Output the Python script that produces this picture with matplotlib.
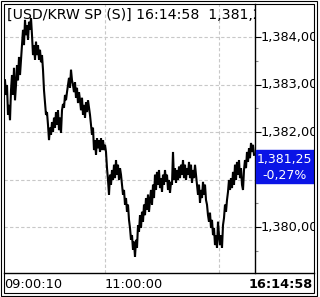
import matplotlib
matplotlib.use("Agg")
import matplotlib.pyplot as plt
from matplotlib.patches import Rectangle
import numpy as np

# ---- data ----
prices = [
    1383.09, 1382.78, 1382.99, 1382.36, 1382.57, 1382.25, 1382.88, 1383.20, 1382.78, 1383.35,
    1382.67, 1382.99, 1383.41, 1383.09, 1383.58, 1383.20, 1383.52, 1383.83, 1384.15, 1383.83,
    1384.36, 1384.04, 1384.25, 1383.94, 1384.32, 1384.15, 1384.40, 1384.04, 1383.62, 1383.83,
    1383.52, 1383.90, 1383.62, 1383.83, 1383.52, 1383.73, 1383.47, 1383.62, 1383.31, 1382.88,
    1382.61, 1382.36, 1382.42, 1382.15, 1381.83, 1382.09, 1381.94, 1382.21, 1382.00, 1382.30,
    1382.09, 1382.42, 1382.15, 1382.46, 1382.04, 1382.30, 1381.98, 1382.46, 1382.59, 1382.51,
    1382.78, 1382.67, 1382.84, 1382.99, 1383.14, 1382.93, 1383.31, 1383.09, 1382.99, 1382.84,
    1383.05, 1382.72, 1382.93, 1382.61, 1382.84, 1382.67, 1382.46, 1382.72, 1382.36, 1382.57,
    1382.30, 1382.63, 1382.42, 1382.67, 1382.51, 1382.36, 1382.15, 1381.94, 1382.09, 1381.62,
    1381.83, 1381.52, 1381.87, 1381.66, 1381.83, 1381.58, 1381.87, 1381.62, 1381.83, 1381.62,
    1381.73, 1381.58, 1381.24, 1380.99, 1380.68, 1381.10, 1380.89, 1381.20, 1380.99, 1381.31,
    1381.03, 1381.41, 1381.10, 1381.31, 1380.99, 1381.24, 1381.10, 1380.89, 1380.68, 1380.78,
    1380.47, 1380.61, 1380.32, 1380.47, 1380.15, 1379.98, 1379.73, 1379.83, 1379.52, 1379.69,
    1379.37, 1379.73, 1379.56, 1380.04, 1379.90, 1380.25, 1379.98, 1380.32, 1380.11, 1380.47,
    1380.25, 1380.61, 1380.36, 1380.68, 1380.32, 1380.57, 1380.78, 1380.47, 1380.89, 1380.61,
    1381.10, 1380.78, 1381.16, 1380.89, 1381.20, 1380.82, 1381.03, 1380.74, 1381.10, 1380.89,
    1381.20, 1380.95, 1381.10, 1380.78, 1380.99, 1380.72, 1380.95, 1380.89, 1381.58, 1380.99,
    1381.24, 1380.93, 1381.20, 1380.99, 1381.27, 1381.03, 1381.31, 1381.10, 1381.41, 1381.03,
    1381.31, 1380.99, 1381.24, 1381.10, 1381.37, 1381.03, 1381.31, 1380.93, 1381.20, 1381.03,
    1381.31, 1381.10, 1380.89, 1380.68, 1380.89, 1380.51, 1380.78, 1380.61, 1380.95, 1380.68,
    1380.89, 1380.57, 1380.47, 1380.25, 1380.11, 1380.30, 1379.98, 1380.15, 1379.83, 1379.98,
    1379.62, 1379.83, 1379.56, 1380.11, 1379.83, 1379.62, 1379.83, 1379.56, 1380.04, 1380.19,
    1380.47, 1380.32, 1380.57, 1380.74, 1380.99, 1380.78, 1381.03, 1380.82, 1381.16, 1380.89,
    1381.31, 1380.99, 1381.37, 1381.10, 1381.41, 1381.03, 1381.24, 1380.89, 1380.78, 1381.20,
    1381.41, 1381.24, 1381.58, 1381.37, 1381.66, 1381.45, 1381.77, 1381.58, 1381.73, 1381.52,
]
y_ticks = [1380.0, 1381.0, 1382.0, 1383.0, 1384.0]
y_tick_labels = ["1,380,00", "1,381,00", "1,382,00", "1,383,00", "1,384,00"]
y_minor = [1379.5, 1380.5, 1381.5, 1382.5, 1383.5]
x_grid_idx = [100, 214]
x_labels = ["09:00:10", "11:00:00", "16:14:58"]
x_label_idx = [0, 100]
title_text = "[USD/KRW SP (S)] 16:14:58  1,381,25"
last_price_text = "1,381,25"
change_text = "-0,27%"

W, H = 320, 297
DPI = 100
fig = plt.figure(figsize=(W / DPI, H / DPI), dpi=DPI)
fig.patch.set_facecolor("white")

def fx(px):
    return px / W

def fy(py):
    return 1 - py / H

FONT = "DejaVu Sans"
FS = 9.3
FS_TITLE = 10.2

# outer frames
fig.add_artist(Rectangle((fx(1), fy(296)), fx(316), (295) / H, transform=fig.transFigure,
                         fill=False, ec="black", lw=0.8))
fig.add_artist(Rectangle((fx(4), fy(293)), fx(310), (289) / H, transform=fig.transFigure,
                         fill=False, ec="black", lw=0.8))

# main plot axes
L, R, T, B = 4, 255, 4, 273
ax = fig.add_axes([fx(L), fy(B), (R - L) / W, (B - T) / H])
x = np.arange(len(prices))
ax.plot(x, prices, color="black", lw=1.5, solid_joinstyle="miter")
ax.set_xlim(-1, len(prices))
ax.set_ylim(1379.032, 1384.695)
for yt in y_ticks:
    ax.axhline(yt, color="#c8c8c8", lw=0.8, ls=(0, (3, 2)), zorder=0)
for xi in x_grid_idx:
    ax.axvline(xi, color="#c8c8c8", lw=0.8, ls=(0, (3, 2)), zorder=0)
ax.set_xticks([])
ax.yaxis.tick_right()
ax.set_yticks(y_ticks)
ax.set_yticks(y_minor, minor=True)
ax.set_yticklabels([])
ax.tick_params(axis="y", which="major", direction="out", length=4, width=0.8, color="black")
ax.tick_params(axis="y", which="minor", direction="out", length=2, width=0.8, color="#888888")
for s in ["left", "top", "bottom"]:
    ax.spines[s].set_visible(False)
ax.spines["right"].set_linewidth(1.0)
ax.text(3 / (R - L), 1 - 15 / (B - T), title_text, transform=ax.transAxes,
        fontsize=FS_TITLE, family=FONT, color="black", clip_on=True, va="baseline", ha="left")

# right label axes
axr = fig.add_axes([fx(R), fy(B), (314 - R) / W, (B - T) / H])
axr.set_xlim(0, 1)
axr.set_ylim(ax.get_ylim())
axr.axis("off")

def py2price(py):
    return 1384 - (py - 37) / 47.5

box_top = py2price(150)
box_bot = py2price(183)
for yt, lab in zip(y_ticks, y_tick_labels):
    if box_bot - 0.1 <= yt <= box_top + 0.1:
        continue  # hidden behind the last-price box in the reference
    axr.text(6 / (314 - R), yt, lab, fontsize=FS, family=FONT, va="center", ha="left",
             clip_on=True, color="black")
# last-price box
axr.add_patch(Rectangle((1 / (314 - R), box_bot), 1.0, box_top - box_bot,
                        color="#0a14e6", clip_on=True))
axr.text(0.5, py2price(159.5), last_price_text, fontsize=FS - 0.3, family=FONT,
         color="white", ha="center", va="center", clip_on=True)
axr.text(0.5, py2price(175), change_text, fontsize=FS - 0.3, family=FONT,
         color="white", ha="center", va="center", clip_on=True)

# bottom label axes
axb = fig.add_axes([fx(4), fy(293), (314 - 4) / W, (293 - 273) / H])
axb.set_xlim(L - 4, 314 - 4)
axb.set_ylim(0, 1)
axb.axis("off")
fig.add_artist(plt.Line2D([fx(4), fx(314)], [fy(273), fy(273)], transform=fig.transFigure,
                          color="black", lw=1.0))
px_per_idx = (R - L) / (len(prices) + 1)
for lab, xi in zip(x_labels[:2], x_label_idx):
    axb.text(px_per_idx * (xi + 1) - 0.5, 0.42, lab, fontsize=FS, family=FONT,
             ha="left", va="center", color="black")
axb.text(309, 0.42, x_labels[2], fontsize=FS, family=FONT, ha="right", va="center",
         fontweight="bold", color="black")

fig.savefig("out.png", dpi=DPI, facecolor="white")
